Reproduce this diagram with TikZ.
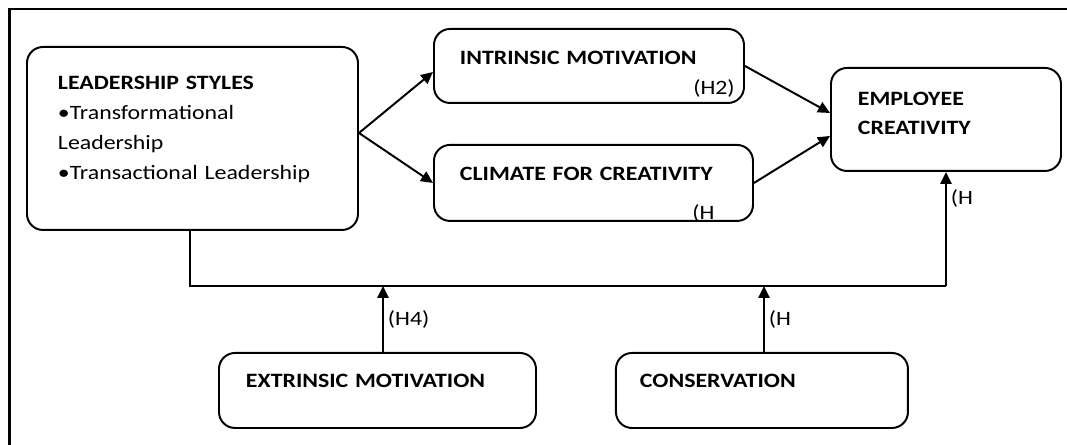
\documentclass[tikz,border=0pt]{standalone}
\usepackage{fontspec}
\setmainfont{Carlito}[FakeStretch=1.17, WordSpace=0.6]
\usetikzlibrary{arrows.meta, positioning}

\begin{document}
\begin{tikzpicture}[
    node distance=1cm,
    box/.style={rectangle, rounded corners=0.4cm, draw=black, line width=1.4pt, align=left, inner ysep=0pt, font=\fontsize{14.5}{21.3}\selectfont\bfseries},
    hyp/.style={font=\fontsize{14.5}{17}\selectfont, inner sep=0.1cm},
    arrow/.style={-{Triangle[length=0.3cm, width=0.28cm]}, line width=1.4pt},
    link/.style={line width=1.4pt}
]
\useasboundingbox (0,0) rectangle (26.675,-11.125);
\draw [line width=2pt] (0.2375,-11.125) |- (26.675,-0.225);

\node (lead) [box, anchor=north west, inner xsep=0.775cm, text width=6.725cm, text height=1.0625cm, text depth=3.5125cm] at (0.65,-1.15)
    {LEADERSHIP STYLES\\ \mdseries\textbullet Transformational\\ Leadership\\ \textbullet Transactional Leadership};
\node (im) [box, anchor=north west, inner xsep=0.65cm, text width=6.45cm, text height=0.8875cm, text depth=0.9625cm] at (10.825,-0.7) {INTRINSIC MOTIVATION};
\node (cc) [box, below=1cm of im.south west, anchor=north west, inner xsep=0.65cm, text width=6.675cm, text height=0.8875cm, text depth=1.0125cm] {CLIMATE FOR CREATIVITY};
\node (ec) [box, anchor=north west, inner xsep=0.675cm, text width=4.4cm, text height=0.9375cm, text depth=1.6375cm, font=\fontsize{14.5}{20.6}\selectfont\bfseries] at (20.75,-1.675) {EMPLOYEE\\ CREATIVITY};
\node (em) [box, anchor=north west, inner xsep=0.675cm, text width=6.575cm, text height=0.8625cm, text depth=1.0125cm] at (5.45,-8.8) {EXTRINSIC MOTIVATION};
\node (cons) [box, right=1.95cm of em, inner xsep=0.6cm, text width=6.1cm, text height=0.8625cm, text depth=1.0125cm] {CONSERVATION};

\node (h2) [hyp, anchor=south east] at ([xshift=-0.15cm, yshift=0.05cm]im.south east) {(H2)};
\node (h3) [hyp, anchor=north west, inner sep=0pt] at ([xshift=6.475cm, yshift=-1.5cm]cc.north west) {(H};

\coordinate (fork) at ([yshift=0.1375cm]lead.east);
\coordinate (bus) at (4.75,-7.15);
\coordinate (h4) at (9.575,-7.15);
\coordinate (h5) at (19.1,-7.15);

\draw [arrow] (fork) -- ([yshift=-0.15cm]im.west);
\draw [arrow] (fork) -- (cc.west);
\draw [arrow] (im.east) -- ([yshift=0.1625cm]ec.west);
\draw [arrow] (cc.east) -- ([yshift=-0.4125cm]ec.west);
\draw [link] (lead.south -| bus) -- (bus) -- (bus -| ec.south);
\draw [arrow] (bus -| ec.south) -- node[hyp, right, pos=0.77] {(H} (ec.south);
\draw [arrow] (em.north -| h4) -- node[hyp, right] {(H4)} (h4);
\draw [arrow] (cons.north -| h5) -- node[hyp, right] {(H} (h5);
\end{tikzpicture}
\end{document}
